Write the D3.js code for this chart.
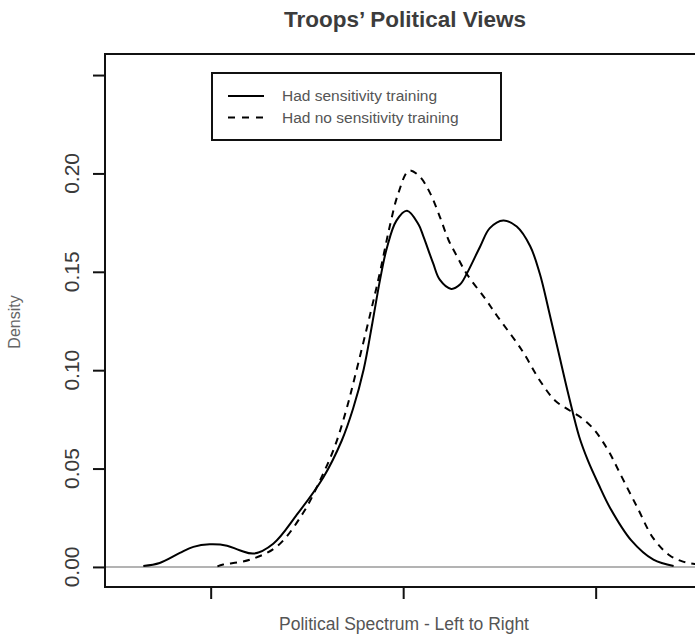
<!DOCTYPE html>
<html>
<head>
<meta charset="utf-8">
<script src="https://cdn.jsdelivr.net/npm/d3@7"></script>
<style>
  body { margin: 0; background: #fff; }
  text { font-family: "Liberation Sans", Arial, Helvetica, sans-serif; }
</style>
</head>
<body>
<div id="chart"></div>
<script>
// density estimates
var trainedX = [1.30, 1.47, 1.68, 1.82, 1.99, 2.17, 2.30, 2.45, 2.65, 2.89, 3.17, 3.36, 3.48, 3.59, 3.68, 3.76, 3.83, 3.93, 4.04, 4.16, 4.21, 4.31, 4.38, 4.50, 4.59, 4.66, 4.80, 4.90, 5.04, 5.18, 5.32, 5.42, 5.51, 5.61, 5.72, 5.83, 5.92, 6.03, 6.15, 6.37, 6.60, 6.81];
var trainedY = [0.0005, 0.002, 0.0071, 0.0102, 0.0115, 0.0108, 0.0085, 0.0068, 0.0118, 0.0262, 0.0455, 0.0640, 0.0805, 0.1005, 0.124, 0.146, 0.162, 0.176, 0.181, 0.174, 0.168, 0.1545, 0.146, 0.1413, 0.1435, 0.149, 0.1629, 0.1722, 0.1761, 0.173, 0.163, 0.149, 0.131, 0.110, 0.087, 0.066, 0.054, 0.042, 0.030, 0.0135, 0.0037, 0.0005];

var untrainedX = [2.07, 2.13, 2.41, 2.69, 2.96, 3.14, 3.29, 3.41, 3.50, 3.66, 3.76, 3.86, 3.95, 4.06, 4.17, 4.28, 4.38, 4.47, 4.56, 4.66, 4.86, 4.98, 5.23, 5.43, 5.58, 5.73, 5.86, 5.98, 6.06, 6.15, 6.25, 6.43, 6.60, 6.77, 6.90, 7.03, 7.14];
var untrainedY = [0.0003, 0.0012, 0.0037, 0.0105, 0.0274, 0.0444, 0.0613, 0.080, 0.097, 0.129, 0.150, 0.173, 0.190, 0.2014, 0.1985, 0.190, 0.1781, 0.1663, 0.1578, 0.149, 0.1358, 0.1273, 0.1104, 0.094, 0.0845, 0.0795, 0.0755, 0.0700, 0.0647, 0.0575, 0.0478, 0.0305, 0.0145, 0.0058, 0.0028, 0.0015, 0.0010];

var seriesNames = ['Had sensitivity training', 'Had no sensitivity training'];
var xTicks = [2, 4, 6];
var yTicks = [0, 0.05, 0.10, 0.15, 0.20, 0.25];
var yTickLabels = ['0.00', '0.05', '0.10', '0.15', '0.20', ''];

var width = 695;
var height = 638;
var margin = { top: 54, left: 105, bottom: 51, right: -10 };
var g_width = width - margin.left - margin.right;
var g_height = height - margin.top - margin.bottom;

var svg = d3.select('#chart').append('svg')
	.attr('width', width)
	.attr('height', height);

var g = svg.append('g')
	.attr('transform', 'translate(' + margin.left + ',' + margin.top + ')');

var xScale = d3.scaleLinear()
	.domain([0.902, 7.136])
	.range([0, g_width]);
var yScale = d3.scaleLinear()
	.domain([-0.0102, 0.2607])
	.range([g_height, 0]);

// zero reference line
g.append('line')
	.attr('x1', 0).attr('x2', g_width)
	.attr('y1', yScale(0)).attr('y2', yScale(0))
	.attr('stroke', '#9a9a9a')
	.attr('stroke-width', 1.6);

var line = d3.line()
	.x(function (d) { return xScale(d[0]); })
	.y(function (d) { return yScale(d[1]); })
	.curve(d3.curveCatmullRom.alpha(0.5));

var trained = trainedX.map(function (x, i) { return [x, trainedY[i]]; });
var untrained = untrainedX.map(function (x, i) { return [x, untrainedY[i]]; });

g.append('path')
	.datum(trained)
	.attr('d', line)
	.attr('fill', 'none')
	.attr('stroke', '#000')
	.attr('stroke-width', 2);

g.append('path')
	.datum(untrained)
	.attr('d', line)
	.attr('fill', 'none')
	.attr('stroke', '#000')
	.attr('stroke-width', 2)
	.attr('stroke-dasharray', '7,6');

// plot box
g.append('rect')
	.attr('x', 0).attr('y', 0)
	.attr('width', g_width).attr('height', g_height)
	.attr('fill', 'none')
	.attr('stroke', '#111')
	.attr('stroke-width', 2);

// axes (ticks only, labels drawn separately)
var xAxis = d3.axisBottom(xScale).tickValues(xTicks).tickFormat('').tickSize(12).tickSizeOuter(0);
var gx = g.append('g')
	.attr('transform', 'translate(0,' + g_height + ')')
	.call(xAxis);
gx.select('.domain').remove();
gx.selectAll('line').attr('stroke', '#111').attr('stroke-width', 2);

var yAxis = d3.axisLeft(yScale).tickValues(yTicks).tickFormat('').tickSize(12).tickSizeOuter(0);
var gy = g.append('g').call(yAxis);
gy.select('.domain').remove();
gy.selectAll('line').attr('stroke', '#111').attr('stroke-width', 2);

g.selectAll('.ylab')
	.data(yTicks)
	.enter()
	.append('text')
	.attr('class', 'ylab')
	.attr('transform', function (d) { return 'translate(-26,' + yScale(d) + ') rotate(-90)'; })
	.attr('text-anchor', 'middle')
	.attr('font-size', 21)
	.attr('fill', '#3a3a3a')
	.text(function (d, i) { return yTickLabels[i]; });

// titles
svg.append('text')
	.attr('x', 405)
	.attr('y', 27)
	.attr('text-anchor', 'middle')
	.attr('font-size', 22.5)
	.attr('font-weight', 'bold')
	.attr('fill', '#3c3c3c')
	.text('Troops\u2019 Political Views');

svg.append('text')
	.attr('x', 404)
	.attr('y', 630)
	.attr('text-anchor', 'middle')
	.attr('font-size', 17.5)
	.attr('fill', '#555')
	.text('Political Spectrum - Left to Right');

svg.append('text')
	.attr('transform', 'translate(20,322) rotate(-90)')
	.attr('text-anchor', 'middle')
	.attr('font-size', 16)
	.attr('fill', '#666')
	.text('Density');

// legend
var legend = svg.append('g').attr('transform', 'translate(212,73)');
legend.append('rect')
	.attr('width', 289).attr('height', 67)
	.attr('fill', '#fff')
	.attr('stroke', '#111')
	.attr('stroke-width', 2);
seriesNames.map(function (name, i) {
	var y = 23 + i * 21.5;
	legend.append('line')
		.attr('x1', 16).attr('x2', 52)
		.attr('y1', y).attr('y2', y)
		.attr('stroke', '#000')
		.attr('stroke-width', 2)
		.attr('stroke-dasharray', i == 1 ? '7,7' : null);
	legend.append('text')
		.attr('x', 70)
		.attr('y', y + 5)
		.attr('font-size', 15.5)
		.attr('fill', '#555')
		.text(name);
});
</script>
</body>
</html>
